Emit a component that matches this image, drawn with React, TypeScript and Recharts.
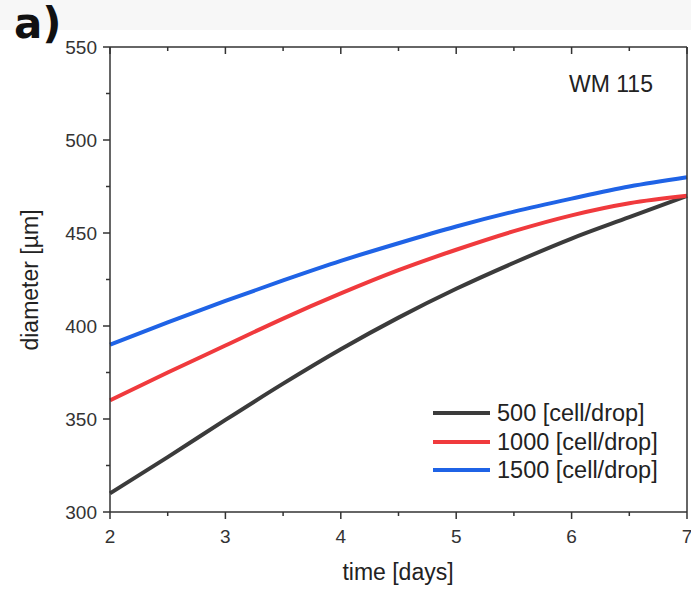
import React from "react";
import { LineChart, Line, XAxis, YAxis } from "recharts";

// time [days]
const days = [2, 2.5, 3, 3.5, 4, 4.5, 5, 5.5, 6, 6.5, 7];
// diameter [µm] per seeding density
const d500 = [310, 329.5, 349.5, 369, 387.5, 404.5, 420, 434, 447, 458.5, 470];
const d1000 = [360, 375, 389.5, 404, 417.5, 430, 441, 451, 459.5, 466, 470];
const d1500 = [390, 402, 413.5, 424.5, 435, 444.5, 453.5, 461.5, 468.5, 475, 480];

const xTicks = [2, 2.5, 3, 3.5, 4, 4.5, 5, 5.5, 6, 6.5, 7];
const yTicks = [300, 325, 350, 375, 400, 425, 450, 475, 500, 525, 550];

const seriesNames = ["500 [cell/drop]", "1000 [cell/drop]", "1500 [cell/drop]"];
const seriesColors = ["#3b3b3b", "#f03a3d", "#1f63e6"];

const data = days.map((t, i) => ({
  t,
  s500: d500[i],
  s1000: d1000[i],
  s1500: d1500[i],
}));

const AXIS = "#333";
const FONT = "'Liberation Sans', Arial, sans-serif";

function LeftTick({ x, y, payload }: any) {
  const major = payload.value % 50 === 0;
  return (
    <g>
      <line x1={x} x2={x - (major ? 7 : 4)} y1={y} y2={y} stroke={AXIS} strokeWidth={1.5} />
      {major && (
        <text x={x - 13} y={y} textAnchor="end" dominantBaseline="central" fontSize={19} fill="#333" fontFamily={FONT}>
          {payload.value}
        </text>
      )}
    </g>
  );
}

function BottomTick({ x, y, payload }: any) {
  const major = Number.isInteger(payload.value);
  return (
    <g>
      <line x1={x} x2={x} y1={y} y2={y + (major ? 7 : 4)} stroke={AXIS} strokeWidth={1.5} />
      {major && (
        <text x={x} y={y + 24} textAnchor="middle" dominantBaseline="central" fontSize={19} fill="#333" fontFamily={FONT}>
          {payload.value}
        </text>
      )}
    </g>
  );
}

function TopTick({ x, y, payload }: any) {
  const major = Number.isInteger(payload.value);
  return <line x1={x} x2={x} y1={y} y2={y + (major ? 7 : 4)} stroke={AXIS} strokeWidth={1.5} />;
}

function RightTick({ x, y, payload }: any) {
  const major = payload.value % 50 === 0;
  return <line x1={x} x2={x - (major ? 7 : 4)} y1={y} y2={y} stroke={AXIS} strokeWidth={1.5} />;
}

export default function App() {
  return (
    <div style={{ position: "relative", width: 691, height: 589, background: "#fff", fontFamily: FONT }}>
      <style>{`body{margin:0}`}</style>
      <div style={{ position: "absolute", left: 0, top: 0, width: 691, height: 30, background: "#f7f7f7" }} />
      <LineChart width={691} height={589} data={data} margin={{ top: 46, right: 3, left: 50, bottom: 37 }}>
        <XAxis
          dataKey="t"
          type="number"
          domain={[2, 7]}
          ticks={xTicks}
          interval={0}
          tickSize={0}
          tickMargin={0}
          tickLine={false}
          tick={<BottomTick />}
          height={40}
          axisLine={{ stroke: AXIS, strokeWidth: 1.5 }}
        />
        <XAxis
          xAxisId="top"
          orientation="top"
          dataKey="t"
          type="number"
          domain={[2, 7]}
          ticks={xTicks}
          interval={0}
          tickSize={0}
          tickMargin={0}
          tickLine={false}
          tick={<TopTick />}
          height={1}
          axisLine={{ stroke: AXIS, strokeWidth: 1.5 }}
        />
        <YAxis
          type="number"
          domain={[300, 550]}
          ticks={yTicks}
          interval={0}
          tickSize={0}
          tickMargin={0}
          tickLine={false}
          tick={<LeftTick />}
          width={60}
          axisLine={{ stroke: AXIS, strokeWidth: 1.5 }}
        />
        <YAxis
          yAxisId="right"
          orientation="right"
          type="number"
          domain={[300, 550]}
          ticks={yTicks}
          interval={0}
          tickSize={0}
          tickMargin={0}
          tickLine={false}
          tick={<RightTick />}
          width={1}
          axisLine={{ stroke: AXIS, strokeWidth: 1.5 }}
        />
        <Line type="monotone" dataKey="s500" name={seriesNames[0]} stroke={seriesColors[0]} strokeWidth={4} dot={false} isAnimationActive={false} />
        <Line type="monotone" dataKey="s1000" name={seriesNames[1]} stroke={seriesColors[1]} strokeWidth={4} dot={false} isAnimationActive={false} />
        <Line type="monotone" dataKey="s1500" name={seriesNames[2]} stroke={seriesColors[2]} strokeWidth={4} dot={false} isAnimationActive={false} />
      </LineChart>

      {/* legend */}
      <div style={{ position: "absolute", left: 433, top: 399, fontSize: 23.5, color: "#222", lineHeight: "28.5px" }}>
        {seriesNames.map((n, i) => (
          <div key={n} style={{ display: "flex", alignItems: "center", whiteSpace: "nowrap" }}>
            <span style={{ display: "inline-block", width: 57, height: 4, background: seriesColors[i], marginRight: 7 }} />
            {n}
          </div>
        ))}
      </div>

      <div style={{ position: "absolute", left: 14, top: 0, fontSize: 42, lineHeight: "48px", fontWeight: "bold", fontFamily: "'DejaVu Sans', sans-serif", color: "#111" }}>
        a)
      </div>
      <div style={{ position: "absolute", left: 569, top: 71, fontSize: 23, color: "#222" }}>WM 115</div>
      <div
        style={{
          position: "absolute",
          left: 30,
          top: 280,
          fontSize: 23,
          color: "#222",
          transform: "translate(-50%, -50%) rotate(-90deg)",
          whiteSpace: "nowrap",
        }}
      >
        diameter [µm]
      </div>
      <div style={{ position: "absolute", left: 398, top: 572, fontSize: 23, color: "#222", transform: "translate(-50%, -50%)", whiteSpace: "nowrap" }}>
        time [days]
      </div>
    </div>
  );
}
